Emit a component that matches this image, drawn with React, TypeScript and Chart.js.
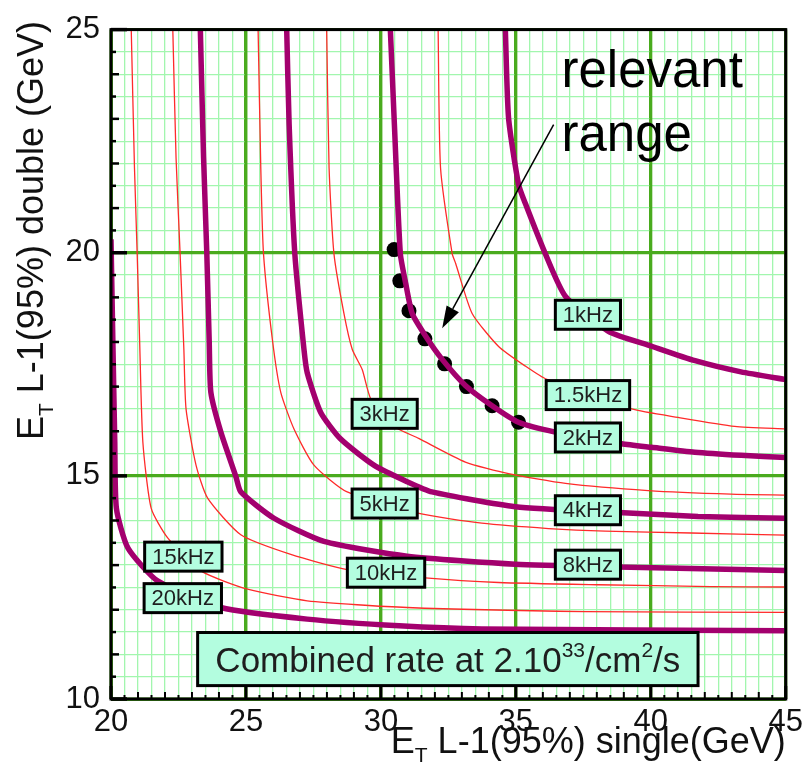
import React, { useEffect, useRef } from 'react';
import { Chart, registerables } from 'chart.js';

Chart.register(...registerables);

const FONT = '"Liberation Sans", Arial, Helvetica, sans-serif';

// Axis ticks
const xTickValues = [20, 25, 30, 35, 40, 45];
const yTickValues = [10, 15, 20, 25];
const minorStep = 0.5;

// Contour lines: x = single ET threshold (GeV), y = double ET threshold (GeV)
const r1kX = [34.61, 34.73, 35.1, 35.36, 36.09, 36.84, 38.43, 40.01, 41.64, 43.34, 45.0];
const r1kY = [25.0, 23.02, 21.53, 21.09, 19.98, 19.02, 18.24, 17.91, 17.58, 17.33, 17.16];

const r1p5kX = [32.12, 32.21, 32.64, 32.77, 33.38, 34.36, 35.35, 36.15, 39.29, 41.01, 43.11, 45.0];
const r1p5kY = [25.0, 21.9, 19.98, 19.76, 18.64, 17.9, 17.46, 17.16, 16.5, 16.31, 16.11, 16.05];

const r2kX = [30.35, 30.5, 30.72, 30.92, 31.16, 31.66, 32.27, 33.14, 34.12, 35.1, 36.46, 38.92, 40.03, 41.63, 43.35, 45.0];
const r2kY = [25.0, 22.87, 19.98, 19.31, 18.64, 18.13, 17.61, 17.02, 16.57, 16.2, 15.98, 15.72, 15.64, 15.53, 15.46, 15.41];

const r3kX = [27.99, 28.08, 28.26, 28.63, 28.94, 29.31, 29.63, 30.55, 31.4, 33.13, 34.73, 36.84, 39.9, 42.97, 45.0];
const r3kY = [25.0, 21.9, 19.98, 18.64, 17.83, 17.38, 16.72, 16.09, 15.84, 15.31, 15.05, 14.83, 14.67, 14.59, 14.57];

const r4kX = [26.51, 26.6, 26.81, 27.15, 27.27, 27.77, 28.5, 29.74, 30.97, 31.89, 34.98, 38.8, 41.75, 45.0];
const r4kY = [25.0, 22.87, 19.98, 17.83, 17.31, 16.42, 15.83, 15.24, 14.87, 14.64, 14.31, 14.18, 14.09, 14.05];

const r5kX = [25.45, 25.55, 25.65, 25.98, 26.29, 26.78, 27.52, 28.75, 31.41, 33.74, 36.21, 38.31, 41.5, 45.0];
const r5kY = [25.0, 21.9, 19.98, 18.05, 16.87, 16.05, 15.24, 14.64, 14.16, 13.94, 13.82, 13.76, 13.72, 13.67];

const r8kX = [23.31, 23.43, 23.55, 23.64, 23.7, 24.07, 24.63, 24.81, 26.04, 27.89, 30.97, 34.98, 38.8, 45.0];
const r8kY = [25.0, 22.13, 19.98, 17.98, 16.87, 15.98, 14.98, 14.64, 14.05, 13.53, 13.2, 13.02, 12.96, 12.88];

const r10kX = [22.29, 22.41, 22.56, 22.7, 22.78, 23.15, 23.58, 24.81, 26.66, 28.75, 31.52, 34.36, 38.06, 42.23, 45.0];
const r10kY = [25.0, 22.13, 19.98, 17.83, 16.5, 15.24, 14.5, 13.68, 13.24, 12.9, 12.72, 12.61, 12.56, 12.52, 12.51];

const r15kX = [20.75, 20.87, 20.97, 21.06, 21.18, 21.49, 22.1, 23.33, 25.06, 27.27, 30.97, 37.57, 45.0];
const r15kY = [25.0, 21.9, 19.98, 18.05, 15.76, 14.27, 13.61, 12.87, 12.46, 12.2, 12.05, 11.96, 11.94];

const r20kX = [20.0, 20.07, 20.14, 20.2, 20.63, 21.74, 24.07, 27.27, 30.67, 33.74, 45.0];
const r20kY = [20.3, 17.98, 15.76, 14.27, 13.38, 12.64, 12.05, 11.79, 11.64, 11.57, 11.53];

// Working points ("relevant range")
const dotX = [30.49, 30.7, 31.04, 31.63, 32.36, 33.17, 34.12, 35.1];
const dotY = [20.07, 19.37, 18.7, 18.07, 17.51, 17.0, 16.57, 16.2];

// Contour labels and their anchor points (data units)
const labelTexts = ['1kHz', '1.5kHz', '2kHz', '3kHz', '4kHz', '5kHz', '8kHz', '10kHz', '15kHz', '20kHz'];
const labelX = [37.67, 37.67, 37.67, 30.14, 37.67, 30.14, 37.67, 30.19, 22.68, 22.66];
const labelY = [18.61, 16.81, 15.86, 16.39, 14.23, 14.38, 13.01, 12.83, 13.19, 12.26];

// Annotation anchors (data units)
const noteBoxX = [23.21, 41.75];
const noteBoxY = [10.3, 11.49];
const arrowFrom = [36.4, 22.87];
const arrowTo = [32.27, 18.31];
const noteTextAnchor = [36.69, 23.71, 22.29];

const THICK = '#a3006e';
const THIN = '#ff2a2a';
const MINOR_GRID = '#a2f6ae';
const MAJOR_GRID = '#4aab1e';
const BOX_FILL = '#b3fddf';

const seriesList = [
  { x: r1kX, y: r1kY, thick: true },
  { x: r1p5kX, y: r1p5kY, thick: false },
  { x: r2kX, y: r2kY, thick: true },
  { x: r3kX, y: r3kY, thick: false },
  { x: r4kX, y: r4kY, thick: true },
  { x: r5kX, y: r5kY, thick: false },
  { x: r8kX, y: r8kY, thick: true },
  { x: r10kX, y: r10kY, thick: false },
  { x: r15kX, y: r15kY, thick: false },
  { x: r20kX, y: r20kY, thick: true },
];

const toPts = (xs: number[], ys: number[]) => xs.map((v, i) => ({ x: v, y: ys[i] }));

function drawPieces(ctx: CanvasRenderingContext2D, pieces: { t: string; size: number; dy: number }[], x: number, y: number) {
  let cx = x;
  for (const p of pieces) {
    ctx.font = `${p.size}px ${FONT}`;
    ctx.fillText(p.t, cx, y + p.dy);
    cx += ctx.measureText(p.t).width;
  }
}
function piecesWidth(ctx: CanvasRenderingContext2D, pieces: { t: string; size: number; dy: number }[]) {
  let w = 0;
  for (const p of pieces) {
    ctx.font = `${p.size}px ${FONT}`;
    w += ctx.measureText(p.t).width;
  }
  return w;
}

const decorPlugin = {
  id: 'decor',
  beforeDatasetsDraw(chart: any) {
    const { ctx, chartArea: a } = chart;
    const xs = chart.scales.x, ys = chart.scales.y;
    ctx.save();
    ctx.strokeStyle = MAJOR_GRID;
    ctx.lineWidth = 3;
    ctx.beginPath();
    xTickValues.forEach((v) => {
      const p = xs.getPixelForValue(v);
      ctx.moveTo(p, a.top);
      ctx.lineTo(p, a.bottom);
    });
    yTickValues.forEach((v) => {
      const p = ys.getPixelForValue(v);
      ctx.moveTo(a.left, p);
      ctx.lineTo(a.right, p);
    });
    ctx.stroke();
    ctx.restore();
  },
  afterDraw(chart: any) {
    const { ctx, chartArea: a } = chart;
    const xs = chart.scales.x, ys = chart.scales.y;
    ctx.save();

    // contour labels
    labelTexts.forEach((t, i) => {
      ctx.font = `22px ${FONT}`;
      const w = ctx.measureText(t).width + 15;
      const h = 29;
      const cx = xs.getPixelForValue(labelX[i]);
      const cy = ys.getPixelForValue(labelY[i]);
      ctx.fillStyle = BOX_FILL;
      ctx.fillRect(cx - w / 2, cy - h / 2, w, h);
      ctx.lineWidth = 3;
      ctx.strokeStyle = '#000';
      ctx.strokeRect(cx - w / 2, cy - h / 2, w, h);
      ctx.fillStyle = '#1e1e1e';
      ctx.textAlign = 'center';
      ctx.textBaseline = 'middle';
      ctx.fillText(t, cx, cy + 1);
    });

    // combined rate box
    {
      const x0 = xs.getPixelForValue(noteBoxX[0]);
      const x1 = xs.getPixelForValue(noteBoxX[1]);
      const y0 = ys.getPixelForValue(noteBoxY[1]);
      const y1 = ys.getPixelForValue(noteBoxY[0]);
      ctx.fillStyle = BOX_FILL;
      ctx.fillRect(x0, y0, x1 - x0, y1 - y0);
      ctx.lineWidth = 3;
      ctx.strokeStyle = '#000';
      ctx.strokeRect(x0, y0, x1 - x0, y1 - y0);
      const pieces = [
        { t: 'Combined rate at 2.10', size: 35, dy: 0 },
        { t: '33', size: 21, dy: -15 },
        { t: '/cm', size: 35, dy: 0 },
        { t: '2', size: 21, dy: -15 },
        { t: '/s', size: 35, dy: 0 },
      ];
      const w = piecesWidth(ctx, pieces);
      ctx.fillStyle = '#1e1e1e';
      ctx.textAlign = 'left';
      ctx.textBaseline = 'alphabetic';
      drawPieces(ctx, pieces, (x0 + x1) / 2 - w / 2, y1 - 14);
    }

    // arrow + "relevant range"
    {
      const ax = xs.getPixelForValue(arrowFrom[0]);
      const ay = ys.getPixelForValue(arrowFrom[1]);
      const bx = xs.getPixelForValue(arrowTo[0]);
      const by = ys.getPixelForValue(arrowTo[1]);
      const ang = Math.atan2(by - ay, bx - ax);
      const hl = 22, hw = 7;
      const baseX = bx - hl * Math.cos(ang), baseY = by - hl * Math.sin(ang);
      ctx.strokeStyle = '#000';
      ctx.lineWidth = 1.5;
      ctx.beginPath();
      ctx.moveTo(ax, ay);
      ctx.lineTo(baseX, baseY);
      ctx.stroke();
      ctx.fillStyle = '#000';
      ctx.beginPath();
      ctx.moveTo(bx, by);
      ctx.lineTo(baseX + hw * Math.sin(ang), baseY - hw * Math.cos(ang));
      ctx.lineTo(baseX - hw * Math.sin(ang), baseY + hw * Math.cos(ang));
      ctx.closePath();
      ctx.fill();

      ctx.font = `51px ${FONT}`;
      ctx.textAlign = 'left';
      ctx.textBaseline = 'alphabetic';
      const tx = xs.getPixelForValue(noteTextAnchor[0]);
      ctx.fillText('relevant', tx, ys.getPixelForValue(noteTextAnchor[1]));
      ctx.fillText('range', tx, ys.getPixelForValue(noteTextAnchor[2]));
    }

    // inward tick marks
    ctx.strokeStyle = '#000';
    const xMin = xTickValues[0], xMax = xTickValues[xTickValues.length - 1];
    const yMin = yTickValues[0], yMax = yTickValues[yTickValues.length - 1];
    const nx = Math.round((xMax - xMin) / minorStep);
    for (let i = 0; i <= nx; i++) {
      const v = xMin + i * minorStep;
      const p = xs.getPixelForValue(v);
      const major = v % 5 === 0;
      const len = major ? 13 : v % 1 === 0 ? 7 : 4;
      ctx.lineWidth = major ? 3 : 2;
      ctx.beginPath();
      ctx.moveTo(p, a.bottom);
      ctx.lineTo(p, a.bottom - len);
      ctx.stroke();
    }
    const ny = Math.round((yMax - yMin) / minorStep);
    for (let i = 0; i <= ny; i++) {
      const v = yMin + i * minorStep;
      const p = ys.getPixelForValue(v);
      const major = v % 5 === 0;
      const len = major ? 16 : v % 1 === 0 ? 8 : 5;
      ctx.lineWidth = major ? 3.5 : 2.5;
      ctx.beginPath();
      ctx.moveTo(a.left, p);
      ctx.lineTo(a.left + len, p);
      ctx.stroke();
    }

    // frame
    ctx.lineWidth = 3;
    ctx.strokeRect(a.left, a.top, a.right - a.left, a.bottom - a.top);

    // axis titles
    ctx.fillStyle = '#111';
    ctx.textAlign = 'left';
    ctx.textBaseline = 'alphabetic';
    const xTitle = [
      { t: 'E', size: 36, dy: 0 },
      { t: 'T', size: 21, dy: 9 },
      { t: ' L-1(95%) single(GeV)', size: 36, dy: 0 },
    ];
    const xw = piecesWidth(ctx, xTitle);
    drawPieces(ctx, xTitle, a.right - xw, a.bottom + 54);

    const yTitle = [
      { t: 'E', size: 36, dy: 0 },
      { t: 'T', size: 21, dy: 10 },
      { t: ' L-1(95%) double (GeV)', size: 36, dy: 0 },
    ];
    ctx.translate(43, 440);
    ctx.rotate(-Math.PI / 2);
    drawPieces(ctx, yTitle, 0, 0);

    ctx.restore();
  },
};

export default function App() {
  const ref = useRef<HTMLCanvasElement | null>(null);
  useEffect(() => {
    if (!ref.current) return;
    const datasets: any[] = seriesList.map((s) => ({
      data: toPts(s.x, s.y),
      showLine: true,
      borderColor: s.thick ? THICK : THIN,
      borderWidth: s.thick ? 5.5 : 1.3,
      pointRadius: 0,
      tension: 0.2,
      fill: false,
    }));
    datasets.push({
      data: toPts(dotX, dotY),
      showLine: false,
      pointRadius: 7.5,
      pointBackgroundColor: '#000',
      pointBorderWidth: 0,
    });
    const gridColor = (c: any) => (c.tick && c.tick.value % 5 === 0 ? MAJOR_GRID : MINOR_GRID);
    const gridWidth = (c: any) => (c.tick && c.tick.value % 5 === 0 ? 3 : 1.3);
    const chart = new Chart(ref.current, {
      type: 'scatter',
      data: { datasets },
      plugins: [decorPlugin as any],
      options: {
        animation: false,
        responsive: true,
        maintainAspectRatio: false,
        events: [],
        layout: { padding: { left: 0, right: 20, top: 24, bottom: 0 } },
        plugins: { legend: { display: false }, tooltip: { enabled: false } },
        scales: {
          x: {
            type: 'linear',
            min: xTickValues[0],
            max: xTickValues[xTickValues.length - 1],
            afterFit: (s: any) => { s.height = 70; },
            ticks: {
              stepSize: minorStep,
              autoSkip: false,
              maxRotation: 0,
              minRotation: 0,
              padding: 5,
              color: '#111',
              font: { family: FONT, size: 31 },
              callback: (v: any) => (Number(v) % 5 === 0 ? String(v) : ''),
            },
            grid: { color: gridColor, lineWidth: gridWidth, drawTicks: false },
            border: { display: false },
          },
          y: {
            type: 'linear',
            min: yTickValues[0],
            max: yTickValues[yTickValues.length - 1],
            afterFit: (s: any) => { s.width = 111; },
            ticks: {
              stepSize: minorStep,
              autoSkip: false,
              padding: 11,
              color: '#111',
              font: { family: FONT, size: 31 },
              callback: (v: any) => (Number(v) % 5 === 0 ? String(v) : ''),
            },
            grid: { color: gridColor, lineWidth: gridWidth, drawTicks: false },
            border: { display: false },
          },
        },
      },
    });
    return () => chart.destroy();
  }, []);
  return (
    <div style={{ position: 'fixed', left: 0, top: 0, width: 808, height: 769, background: '#fff' }}>
      <canvas ref={ref} />
    </div>
  );
}
